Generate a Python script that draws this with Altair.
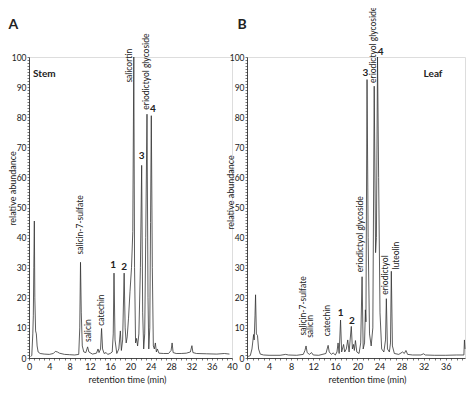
import altair as alt
import pandas as pd

FONT = "Lato"
INK = "#222222"

# ---------------- Panel A : Stem ----------------
stem_time = [0.3, 0.55, 0.75, 0.85, 0.95, 1.05, 1.15, 1.3, 1.45, 1.6, 1.8, 2.2, 3.0, 4.0, 4.8, 5.2, 5.6, 6.0,
             7.0, 8.0, 9.0, 9.8, 10.0, 10.15, 10.3, 10.5, 10.8, 11.2, 11.55, 11.8, 12.5, 13.3, 13.6, 13.8,
             14.1, 14.3, 14.5, 14.8, 15.2, 15.5, 16.0, 16.4, 16.6, 16.75, 16.95, 17.3, 17.7, 18.0, 18.2,
             18.45, 18.75, 18.95, 19.15, 19.35, 19.6, 19.9, 20.2, 20.45, 20.65, 20.8, 21.0, 21.2, 21.4,
             21.65, 21.95, 22.2, 22.4, 22.6, 22.8, 23.0, 23.25, 23.45, 23.6, 23.8, 23.95, 24.1, 24.3, 24.5,
             24.7, 24.9, 25.1, 25.3, 25.6, 26.5, 27.5, 28.0, 28.2, 28.4, 29.0, 30.0, 31.0, 31.8, 32.1, 32.3,
             33.0, 35.0, 37.0, 38.5, 39.5]
stem_abund = [0.5, 0.8, 8, 14, 30, 45.5, 20, 9, 8, 4, 2, 1.5, 1.3, 1.2, 1.5, 2.2, 2.0, 1.6,
              1.2, 1.1, 1.0, 1.2, 10, 31.8, 15, 4, 2, 1.8, 3.7, 2, 1.3, 1.6, 3, 1.8,
              3, 9.8, 3, 1.5, 1.8, 1.2, 1.5, 2, 8, 28.2, 6, 1.5, 3, 9, 2.5,
              6, 28.2, 10, 5, 7, 13, 22, 30, 42, 100, 30, 5, 6.5, 4,
              8, 30, 64, 15, 3, 8, 40, 81, 20, 3, 10, 45, 80.5, 30, 4,
              3, 5, 2, 3, 1.6, 1.5, 1.5, 2.5, 5, 1.8, 1.5, 1.5, 1.6, 2, 4.1, 1.8,
              1.5, 1.4, 1.3, 1.5, 1.3]

stem_label_text = ["salicin-7-sulfate", "salicin", "catechin", "salicortin", "eriodictyol glycoside"]
stem_label_time = [10.1, 11.7, 14.2, 19.8, 23.1]
stem_label_base = [34.4, 5.3, 10.7, 91.5, 82.5]

stem_num_text = ["1", "2", "3", "4"]
stem_num_time = [16.6, 18.75, 22.2, 24.4]
stem_num_value = [31, 30.2, 67, 82.7]

# ---------------- Panel B : Leaf ----------------
leaf_time = [0.2, 0.6, 0.9, 1.2, 1.3, 1.45, 1.55, 1.7, 1.9, 2.1, 2.4, 3.0, 4.0, 6.0, 7.0, 7.5, 9.0, 10.2,
             10.5, 10.7, 10.9, 11.3, 11.7, 12.0, 13.0, 14.3, 14.7, 14.9, 15.3, 15.6, 16.0, 16.3, 16.5,
             16.7, 16.95, 17.15, 17.5, 17.7, 18.0, 18.25, 18.5, 18.9, 19.1, 19.3, 19.45, 19.65, 19.9,
             20.3, 20.6, 20.85, 21.05, 21.3, 21.45, 21.55, 21.75, 21.95, 22.2, 22.5, 22.8, 23.05, 23.3,
             23.45, 23.65, 23.85, 24.1, 24.4, 24.8, 25.1, 25.25, 25.45, 25.8, 26.0, 26.15, 26.35, 26.7,
             27.5, 28.2, 28.5, 28.8, 29.1, 30.0, 31.5, 32.0, 32.3, 34.0, 36.0, 38.0, 39.3, 39.4, 39.5]
leaf_abund = [0.5, 0.8, 3, 7.8, 6, 14, 21, 8, 7.5, 3, 1.3, 1.0, 0.9, 0.9, 1.2, 1.0, 0.9, 1.2,
              2.5, 4, 1.8, 1.2, 1.8, 1.0, 0.9, 1.5, 4.2, 2, 1.2, 1.7, 1.0, 2, 5,
              1.5, 12.6, 2, 4.5, 2, 3, 6, 2, 10.5, 3, 4.5, 2.5, 5.8, 2,
              1.5, 5, 27, 3, 5, 16, 12, 92.5, 40, 8, 4, 10, 90.3, 35,
              40, 100, 60, 15, 3, 2, 6, 19.7, 3, 2, 5, 28.8, 4, 1.5,
              1.2, 2, 1.5, 2.5, 1.2, 1.0, 1.0, 1.4, 1.0, 0.9, 0.9, 1.0, 1.0, 6, 3]

leaf_label_text = ["salicin-7-sulfate", "salicin", "catechin", "eriodictyol glycoside",
                   "eriodictyol glycoside", "eriodictyol", "luteolin"]
leaf_label_time = [10.1, 11.5, 14.5, 20.55, 22.9, 25.05, 26.95]
leaf_label_base = [7.5, 6.7, 7.2, 28.5, 91.4, 21.0, 29.4]

leaf_num_text = ["1", "2", "3", "4"]
leaf_num_time = [16.95, 19.0, 21.45, 24.2]
leaf_num_value = [15, 12.3, 94.6, 101.6]

panel_tags = ["Stem", "Leaf"]
panel_tag_time = [0.8, 32.0]
panel_tag_value = [94.5, 94.5]
panel_letters = ["A", "B"]
panel_letter_time = [-3.1, -0.9]
panel_letter_value = [110.6, 110.6]

x_max = [40, 39.5]
y_title = "relative abundance"
x_title = "retention time (min)"


def panel(i, time, abund, lt, lb, ls, nt, nv, ns, width, title_y, xtitle_x, ytitle_x):
    xs = alt.Scale(domain=[0, x_max[i]], nice=False, zero=False)
    ys = alt.Scale(domain=[0, 100], nice=False)
    xvals = [k * 0.5 for k in range(int(x_max[i] * 2) + 1)]
    yvals = list(range(0, 101))
    xaxis = alt.Axis(values=xvals, format="d", labelExpr="datum.value % 4 === 0 ? datum.label : ''",
                     labelOverlap=False, labelFlush=False, title=x_title, tickSize=2, tickWidth=0.6,
                     tickColor=INK, domainColor=INK, domainWidth=0.8, labelFont=FONT, labelFontSize=9,
                     labelColor=INK, labelPadding=2, titleFont=FONT, titleFontSize=9,
                     titleFontWeight="normal", titleColor=INK, titleY=21, titleX=xtitle_x,
                     titleBaseline="middle", grid=False)
    yaxis = alt.Axis(values=yvals, format="d", labelExpr="datum.value % 10 === 0 ? datum.label : ''",
                     labelOverlap=False, labelFlush=False, title=y_title, tickSize=2, tickWidth=0.6,
                     tickColor=INK, domainColor=INK, domainWidth=0.8, labelFont=FONT, labelFontSize=8.5,
                     labelColor=INK, labelPadding=1, titleFont=FONT, titleFontSize=9,
                     titleFontWeight="normal", titleColor=INK, titleX=ytitle_x, titleY=title_y,
                     titleBaseline="middle", grid=False)

    trace = alt.Chart(pd.DataFrame({"t": time, "v": abund})).mark_line(
        color="#333333", strokeWidth=0.8).encode(
        x=alt.X("t:Q", scale=xs, axis=xaxis),
        y=alt.Y("v:Q", scale=ys, axis=yaxis),
    )

    def text_layer(df, **kw):
        return alt.Chart(df).mark_text(font=FONT, color=INK, **kw).encode(
            x=alt.X("t:Q", scale=xs, axis=xaxis),
            y=alt.Y("v:Q", scale=ys, axis=yaxis),
            text="s:N",
        )

    labels = text_layer(pd.DataFrame({"t": lt, "v": lb, "s": ls}),
                        angle=270, align="left", baseline="middle", fontSize=8.5)
    nums = text_layer(pd.DataFrame({"t": nt, "v": nv, "s": ns}),
                      align="center", baseline="middle", fontSize=10, fontWeight="bold")
    tag = text_layer(pd.DataFrame({"t": [panel_tag_time[i]], "v": [panel_tag_value[i]],
                                   "s": [panel_tags[i]]}),
                     align="left", baseline="middle", fontSize=10, fontWeight="bold")
    letter = text_layer(pd.DataFrame({"t": [panel_letter_time[i]], "v": [panel_letter_value[i]],
                                      "s": [panel_letters[i]]}),
                        align="center", baseline="middle", fontSize=14, fontWeight="bold")
    return alt.layer(trace, labels, nums, tag, letter).properties(width=width, height=301)


a = panel(0, stem_time, stem_abund, stem_label_time, stem_label_base, stem_label_text,
          stem_num_time, stem_num_value, stem_num_text, 203, 131, 98, -16.5)
b = panel(1, leaf_time, leaf_abund, leaf_label_time, leaf_label_base, leaf_label_text,
          leaf_num_time, leaf_num_value, leaf_num_text, 218, 135, 120, -17)

# SVG kept at 458 x 377 so that, with the page's 8px margins, nothing overflows the window
chart = alt.hconcat(a, b, spacing=15, bounds="flush").properties(
    autosize=alt.AutoSizeParams(type="none"),
    padding={"left": 21, "top": 49, "right": 437, "bottom": 328},
).configure_view(strokeWidth=0, stroke="transparent").configure_axis(
    labelOverlap=False).configure(background="white")

chart.save("out.html", embed_options={"renderer": "svg", "actions": False})
